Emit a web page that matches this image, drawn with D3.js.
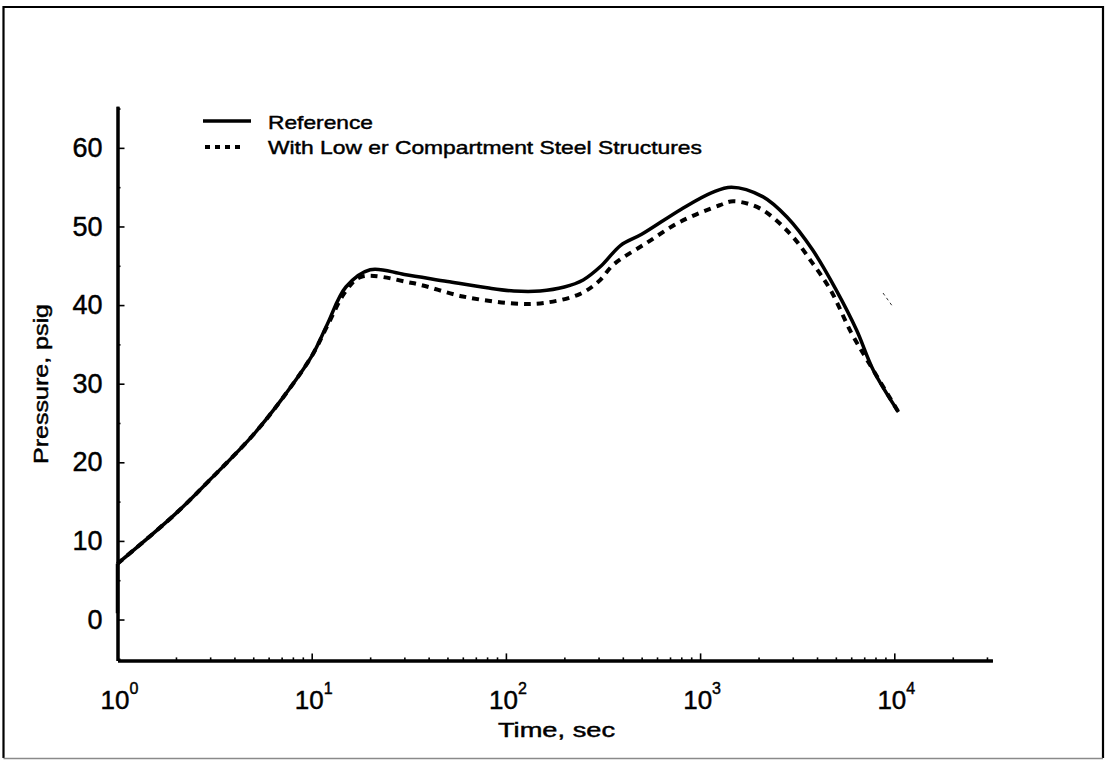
<!DOCTYPE html>
<html>
<head>
<meta charset="utf-8">
<script src="https://cdn.jsdelivr.net/npm/d3@7"></script>
<style>
  html, body { margin: 0; padding: 0; background: #fff; }
  svg { display: block; }
  text { font-family: "Liberation Sans", Arial, Helvetica, sans-serif; fill: #000; stroke: #000; stroke-width: 0.45px; }
</style>
</head>
<body>
<svg id="chart" width="1110" height="761"></svg>
<script>
// Containment pressure vs. time (log time axis)
const referenceSeries = [
  [1, 0.8], [1, 7.1], [2, 13.5], [3, 17.8], [5, 23.5], [7, 28.0], [10, 33.5],
  [12, 37.5], [15, 42.3], [20, 44.5], [30, 43.9], [50, 43.0], [80, 42.2],
  [110, 41.8], [150, 41.8], [200, 42.3], [250, 43.2], [310, 45.0], [390, 47.6],
  [500, 49.0], [800, 52.2], [1150, 54.3], [1450, 55.0], [2100, 53.8],
  [2800, 51.2], [3800, 47.0], [5000, 42.0], [6400, 36.8], [7800, 31.7], [10500, 26.4]
];
const steelSeries = [
  [1, 7.1], [2, 13.5], [3, 17.8], [5, 23.5], [7, 28.0], [10, 33.5],
  [12, 37.3], [15, 41.8], [18, 43.6], [33, 42.8], [60, 41.1], [110, 40.2],
  [160, 40.3], [240, 41.4], [300, 43.0], [360, 45.2], [530, 47.9], [790, 50.6],
  [1260, 52.7], [1480, 53.2], [2030, 52.3], [2900, 49.1], [3800, 45.3],
  [4700, 41.9], [6000, 36.5], [7500, 32.4], [10500, 26.4]
];
const seriesNames = ["Reference", "With Low er Compartment Steel Structures"];
const yTickValues = [0, 10, 20, 30, 40, 50, 60];
const xDecadeExponents = [0, 1, 2, 3, 4];
const xTitle = "Time, sec";
const yTitle = "Pressure, psig";

const svg = d3.select("#chart");

const x = d3.scaleLog().domain([1, 32000]).range([117.5, 992.4]);
const y = d3.scaleLinear().domain([-5.2, 65.3]).range([660.4, 106.2]);

// page frame
svg.append("path")
  .attr("d", "M3.5,758 L3.5,7 L1103,7 L1103,758")
  .attr("fill", "none").attr("stroke", "#000").attr("stroke-width", 2.2);
svg.append("line")
  .attr("x1", 3.5).attr("x2", 1103).attr("y1", 758.5).attr("y2", 758.5)
  .attr("stroke", "#8a8a8a").attr("stroke-width", 1.5);

// stray pen mark right of the curves
svg.append("line")
  .attr("x1", 883).attr("y1", 293).attr("x2", 893).attr("y2", 307)
  .attr("stroke", "#333").attr("stroke-width", 1).attr("stroke-dasharray", "3,3");

const axisY = y.range()[0];
const axisX = x.range()[0];

// x axis: major decade ticks and minor ticks, pointing inward
const majorX = xDecadeExponents.map(e => Math.pow(10, e));
const minorX = [];
for (let e = 0; e <= 4; e++) {
  for (let m = 2; m <= 9; m++) {
    const v = m * Math.pow(10, e);
    if (v <= 30000) minorX.push(v);
  }
}
const gx = svg.append("g").attr("transform", `translate(0,${axisY})`);
gx.call(d3.axisBottom(x).tickValues(minorX).tickSize(-3).tickSizeOuter(0).tickFormat(""));
gx.append("g").call(d3.axisBottom(x).tickValues(majorX).tickSize(-7).tickSizeOuter(0).tickFormat(""));
gx.selectAll(".domain").attr("stroke", "#000").attr("stroke-width", 3);
gx.selectAll(".tick line").attr("stroke", "#000").attr("stroke-width", 1.6);

// decade labels 10^n
const xLabels = svg.append("g");
xDecadeExponents.forEach(e => {
  const t = xLabels.append("text")
    .attr("x", x(Math.pow(10, e)) + 2)
    .attr("y", 709)
    .attr("text-anchor", "middle")
    .style("font-size", "26px");
  t.append("tspan").text("10");
  t.append("tspan").attr("dy", -15).style("font-size", "16px").text(String(e));
});

// y axis
const minorY = d3.range(-5, 66, 10);
const gy = svg.append("g").attr("transform", `translate(${axisX},0)`);
gy.call(d3.axisLeft(y).tickValues(minorY).tickSize(-3).tickSizeOuter(0).tickFormat(""));
gy.append("g").call(d3.axisLeft(y).tickValues(yTickValues).tickSize(-7).tickSizeOuter(0).tickPadding(15).tickFormat(d3.format("d")));
gy.selectAll(".domain").attr("stroke", "#000").attr("stroke-width", 3);
gy.selectAll(".tick line").attr("stroke", "#000").attr("stroke-width", 1.6);
gy.selectAll(".tick text")
  .style("font-size", "27px")
  .style("font-family", "'Liberation Sans', Arial, sans-serif")
  .attr("fill", "#000");

// axis titles
svg.append("text")
  .attr("x", 556.5).attr("y", 737)
  .attr("text-anchor", "middle")
  .attr("textLength", 117).attr("lengthAdjust", "spacingAndGlyphs")
  .style("font-size", "20px")
  .text(xTitle);
svg.append("text")
  .attr("transform", "translate(48,384) rotate(-90)")
  .attr("text-anchor", "middle")
  .attr("textLength", 160).attr("lengthAdjust", "spacingAndGlyphs")
  .style("font-size", "21px")
  .text(yTitle);

// curves: straight rise at t = 1, smooth thereafter
const smooth = d3.line()
  .x(d => x(d[0]))
  .y(d => y(d[1]))
  .curve(d3.curveCatmullRom.alpha(0.5));
const straight = d3.line()
  .x(d => x(d[0]))
  .y(d => y(d[1]));

svg.append("path")
  .datum(steelSeries)
  .attr("d", smooth)
  .attr("fill", "none")
  .attr("stroke", "#000")
  .attr("stroke-width", 4)
  .attr("stroke-dasharray", "7,6");

svg.append("path")
  .datum(referenceSeries.slice(0, 2))
  .attr("d", straight)
  .attr("fill", "none")
  .attr("stroke", "#000")
  .attr("stroke-width", 3.5);

svg.append("path")
  .datum(referenceSeries.slice(1))
  .attr("d", smooth)
  .attr("fill", "none")
  .attr("stroke", "#000")
  .attr("stroke-width", 3.5)
  .attr("stroke-linejoin", "round");

// legend
const legend = svg.append("g");
legend.append("line")
  .attr("x1", 203).attr("x2", 251).attr("y1", 121).attr("y2", 121)
  .attr("stroke", "#000").attr("stroke-width", 3.5);
legend.append("line")
  .attr("x1", 205).attr("x2", 241).attr("y1", 147).attr("y2", 147)
  .attr("stroke", "#000").attr("stroke-width", 4).attr("stroke-dasharray", "5,5");
legend.append("text")
  .attr("x", 268).attr("y", 128.5)
  .attr("textLength", 105).attr("lengthAdjust", "spacingAndGlyphs")
  .style("font-size", "19px")
  .text(seriesNames[0]);
legend.append("text")
  .attr("x", 268).attr("y", 154)
  .attr("textLength", 434).attr("lengthAdjust", "spacingAndGlyphs")
  .style("font-size", "19px")
  .text(seriesNames[1]);
</script>
</body>
</html>
